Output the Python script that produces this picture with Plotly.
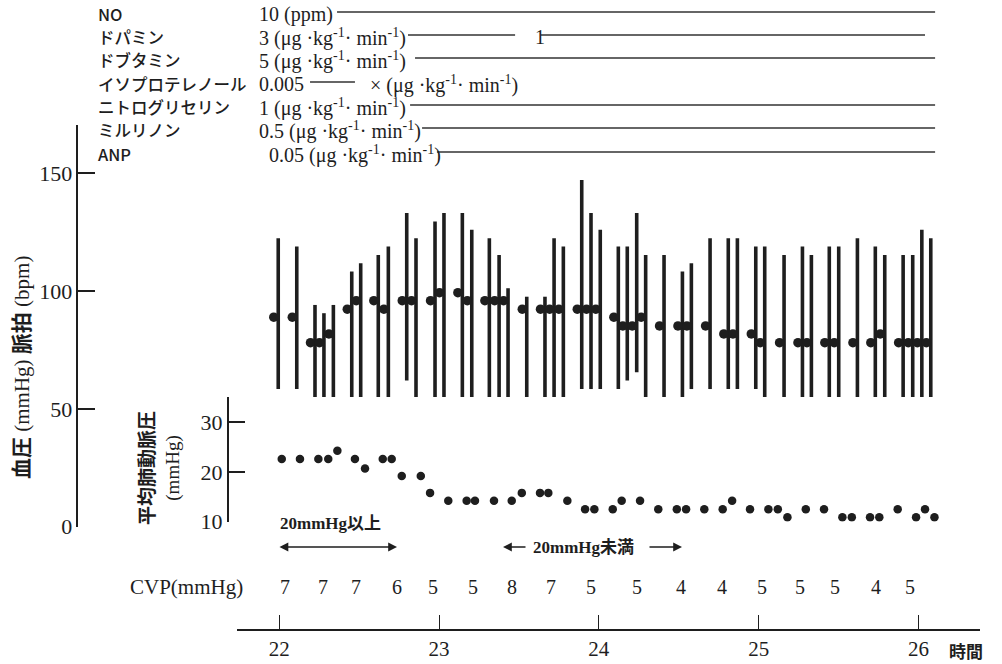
import plotly.graph_objects as go

# ---------------- data ----------------
# blood pressure bars (time in hours, systolic / diastolic) and pulse rate
bp_time = [21.994, 22.110, 22.224, 22.280, 22.339, 22.454, 22.510, 22.620, 22.683, 22.798,
           22.856, 22.975, 23.031, 23.146, 23.205, 23.315, 23.376, 23.432, 23.549, 23.663,
           23.720, 23.778, 23.893, 23.951, 24.009, 24.122, 24.178, 24.237, 24.293, 24.408,
           24.523, 24.579, 24.696, 24.810, 24.867, 24.982, 25.038, 25.159, 25.274, 25.330,
           25.442, 25.501, 25.618, 25.730, 25.789, 25.904, 25.964, 26.021, 26.077]
bp_high = [122.4, 118.9, 94.1, 90.6, 94.1, 108.3, 111.8, 115.3, 118.9, 133.1,
           122.4, 129.5, 133.1, 133.1, 126.0, 122.4, 115.3, 101.2, 97.6, 97.6,
           122.4, 118.9, 147.2, 133.1, 126.0, 118.9, 118.9, 133.1, 115.3, 115.3,
           108.3, 111.8, 122.4, 122.4, 122.4, 118.9, 118.9, 115.3, 118.9, 115.3,
           118.9, 118.9, 122.4, 118.9, 115.3, 115.3, 115.3, 126.0, 122.4]
bp_low = [58.4, 58.4, 47.8, 47.8, 47.8, 54.9, 54.9, 47.8, 51.3, 62.0,
          51.3, 54.9, 54.9, 54.9, 51.3, 51.3, 51.3, 51.3, 44.3, 44.3,
          51.3, 51.3, 58.4, 58.4, 58.4, 58.4, 62.0, 65.5, 51.3, 51.3,
          47.8, 58.4, 58.4, 58.4, 58.4, 58.4, 54.9, 54.9, 54.9, 51.3,
          51.3, 51.3, 47.8, 47.8, 40.7, 44.3, 40.7, 47.8, 47.8]
pulse = [88.9, 88.9, 78.1, 78.1, 81.8, 92.3, 95.9, 95.9, 92.3, 95.9,
         95.9, 95.9, 99.3, 99.3, 95.9, 95.9, 95.9, 95.9, 92.3, 92.3,
         92.3, 92.3, 92.3, 92.3, 92.3, 88.9, 85.2, 85.2, 88.9, 85.2,
         85.2, 85.2, 85.2, 81.8, 81.8, 81.8, 78.1, 78.1, 78.1, 78.1,
         78.1, 78.1, 78.1, 78.1, 81.8, 78.1, 78.1, 78.1, 78.1]

# mean pulmonary artery pressure
pap_time = [22.016, 22.130, 22.245, 22.307, 22.364, 22.474, 22.537, 22.648, 22.704, 22.767,
            22.886, 22.944, 23.058, 23.173, 23.225, 23.344, 23.455, 23.518, 23.632, 23.684,
            23.803, 23.914, 23.972, 24.087, 24.143, 24.258, 24.372, 24.488, 24.546, 24.660,
            24.775, 24.834, 24.946, 25.061, 25.120, 25.180, 25.295, 25.409, 25.524, 25.583,
            25.697, 25.755, 25.870, 25.985, 26.041, 26.100]
pap = [22.6, 22.6, 22.6, 22.6, 24.3, 22.6, 20.7, 22.6, 22.6, 19.2,
       19.2, 15.8, 14.2, 14.2, 14.2, 14.2, 14.2, 15.8, 15.8, 15.8,
       14.2, 12.5, 12.5, 12.5, 14.2, 14.2, 12.5, 12.5, 12.5, 12.5,
       12.5, 14.2, 12.5, 12.5, 12.5, 10.9, 12.5, 12.5, 10.9, 10.9,
       10.9, 10.9, 12.5, 10.9, 12.5, 10.9]

# CVP readings
cvp_time = [22.036, 22.274, 22.481, 22.737, 22.962, 23.213, 23.457, 23.701, 23.951,
            24.239, 24.514, 24.771, 25.021, 25.259, 25.478, 25.735, 25.947]
cvp = [7, 7, 7, 6, 5, 5, 8, 7, 5, 5, 4, 4, 5, 5, 5, 4, 5]

# drugs
UNIT = "(μg ·kg<sup>-1</sup>· min<sup>-1</sup>)"
drug_names = ["NO", "ドパミン", "ドブタミン", "イソプロテレノール", "ニトログリセリン", "ミルリノン", "ANP"]
drug_doses = ["10 (ppm)", "3 " + UNIT, "5 " + UNIT, "0.005", "1 " + UNIT, "0.5 " + UNIT, "0.05 " + UNIT]
drug_periods = [
    [(22.362, 26.104)],
    [(22.806, 23.476), (23.638, 26.041)],
    [(22.850, 26.104)],
    [(22.193, 22.474)],
    [(22.819, 26.104)],
    [(22.894, 26.104)],
    [(22.987, 26.104)],
]
drug_notes = [(1, 23.588, "1"), (3, 22.556, "× " + UNIT)]

x_ticks = [22, 23, 24, 25, 26]
bp_ticks = [0, 50, 100, 150]
pap_ticks = [10, 20, 30]

# ---------------- layout helpers ----------------
W, H = 1002, 664
INK = "#1e1e1e"
SERIF = "Liberation Serif, Noto Sans CJK JP"
GOTHIC = "Noto Sans CJK JP, Noto Sans"


def px(x):
    return x / W


def py(y):
    return (H - y) / H


fig = go.Figure()

# blood pressure bars
bx, by = [], []
for t, lo, hi in zip(bp_time, bp_low, bp_high):
    bx += [t, t, None]
    by += [lo, hi, None]
fig.add_trace(go.Scatter(x=bx, y=by, mode="lines", line=dict(color=INK, width=3.6),
                         xaxis="x", yaxis="y", hoverinfo="skip"))

# pulse dots (drawn just left of each bar)
PULSE_SHIFT = 0.028
fig.add_trace(go.Scatter(x=[t - PULSE_SHIFT for t in bp_time], y=pulse, mode="markers",
                         marker=dict(color=INK, size=9.5), xaxis="x", yaxis="y"))

# pulmonary artery pressure
fig.add_trace(go.Scatter(x=pap_time, y=pap, mode="markers",
                         marker=dict(color=INK, size=8.5), xaxis="x", yaxis="y2"))

row_y = [14, 37, 60, 84, 107, 130, 154]
shapes = []
annotations = []
for i, (name, dose, periods) in enumerate(zip(drug_names, drug_doses, drug_periods)):
    yy = row_y[i]
    annotations.append(dict(x=px(96), y=py(yy), xref="paper", yref="paper", text=name,
                            showarrow=False, xanchor="left", yanchor="middle",
                            font=dict(family=GOTHIC, size=16.5, color=INK, weight=500)))
    annotations.append(dict(x=px(267 if name == "ANP" else 257), y=py(yy), xref="paper", yref="paper",
                            text=dose, showarrow=False, xanchor="left", yanchor="middle",
                            font=dict(family=SERIF, size=20, color=INK)))
    for (s, e) in periods:
        shapes.append(dict(type="line", xref="x", yref="paper", x0=s, x1=e,
                           y0=py(yy - 2), y1=py(yy - 2), line=dict(color="#333", width=1.3)))
for (i, t, txt) in drug_notes:
    annotations.append(dict(x=t, y=py(row_y[i]), xref="x", yref="paper", text=txt,
                            showarrow=False, xanchor="left", yanchor="middle",
                            font=dict(family=SERIF, size=20, color=INK)))

# CVP row
annotations.append(dict(x=px(186), y=py(587), xref="paper", yref="paper", text="CVP(mmHg)",
                        showarrow=False, xanchor="center", yanchor="middle",
                        font=dict(family=SERIF, size=21, color=INK)))
for t, v in zip(cvp_time, cvp):
    annotations.append(dict(x=t, y=py(587), xref="x", yref="paper", text=str(v),
                            showarrow=False, xanchor="center", yanchor="middle",
                            font=dict(family=SERIF, size=20, color=INK)))

# axis titles
annotations.append(dict(x=px(22), y=py(368), xref="paper", yref="paper",
                        text="<b>血圧</b> (mmHg) <b>脈拍</b> (bpm)", textangle=-90,
                        showarrow=False, xanchor="center", yanchor="middle",
                        font=dict(family=SERIF, size=21, color=INK)))
annotations.append(dict(x=px(160), y=py(468), xref="paper", yref="paper",
                        text="<b>平均肺動脈圧</b><br>(mmHg)", textangle=-90,
                        showarrow=False, xanchor="center", yanchor="middle",
                        font=dict(family=SERIF, size=19, color=INK)))
annotations.append(dict(x=px(966), y=py(650), xref="paper", yref="paper", text="<b>時間</b>",
                        showarrow=False, xanchor="center", yanchor="middle",
                        font=dict(family=GOTHIC, size=17, color=INK)))

# range markers
annotations.append(dict(x=px(278), y=py(523), xref="paper", yref="paper", text="<b>20mmHg以上</b>",
                        showarrow=False, xanchor="left", yanchor="middle",
                        font=dict(family=SERIF, size=17, color=INK)))
annotations.append(dict(x=px(397), y=py(547), xref="paper", yref="paper", text="",
                        showarrow=True, axref="pixel", ayref="pixel", ax=-119, ay=0,
                        arrowside="end+start", arrowhead=2, arrowsize=1.1, arrowwidth=1.6,
                        arrowcolor=INK))
annotations.append(dict(x=px(503), y=py(547), xref="paper", yref="paper", text="",
                        showarrow=True, ax=24, ay=0, arrowhead=2, arrowsize=1.1,
                        arrowwidth=1.6, arrowcolor=INK))
annotations.append(dict(x=px(682), y=py(547), xref="paper", yref="paper", text="",
                        showarrow=True, ax=-34, ay=0, arrowhead=2, arrowsize=1.1,
                        arrowwidth=1.6, arrowcolor=INK))
annotations.append(dict(x=px(531), y=py(547), xref="paper", yref="paper", text="<b>20mmHg未満</b>",
                        showarrow=False, xanchor="left", yanchor="middle",
                        font=dict(family=SERIF, size=17, color=INK)))

fig.update_layout(
    width=W, height=H,
    margin=dict(l=0, r=0, t=0, b=0, autoexpand=False),
    paper_bgcolor="white", plot_bgcolor="white",
    showlegend=False,
    xaxis=dict(domain=[px(237), px(980)], range=[21.736, 26.385], anchor="free", position=py(630),
               showline=True, linecolor=INK, linewidth=2, ticks="inside", ticklen=14,
               tickwidth=1.3, tickcolor=INK, tickvals=x_ticks, showgrid=False, zeroline=False,
               tickfont=dict(family=SERIF, size=21, color=INK)),
    yaxis=dict(domain=[py(526.6), py(125)], range=[0, 170.5], anchor="free", position=px(77.3),
               showline=True, linecolor=INK, linewidth=1.5, ticks="inside", ticklen=17,
               tickwidth=1.5, tickcolor=INK, tickvals=bp_ticks, showgrid=False, zeroline=False,
               tickfont=dict(family=SERIF, size=22, color=INK)),
    yaxis2=dict(domain=[py(521.7), py(397)], range=[10, 35.1], anchor="free", position=px(227.7),
                showline=True, linecolor=INK, linewidth=1.5, ticks="inside", ticklen=17,
                tickwidth=1.5, tickcolor=INK, tickvals=pap_ticks, showgrid=False, zeroline=False,
                tickfont=dict(family=SERIF, size=22, color=INK)),
    shapes=shapes,
    annotations=annotations,
)

# make the 1002x664 figure fill the page exactly (no body margin, no line-box gap, no scrollbars)
PAGE_FIX = (
    "document.documentElement.style.margin='0';"
    "document.documentElement.style.overflow='hidden';"
    "document.body.style.margin='0';"
    "document.body.style.overflow='hidden';"
    "document.body.style.lineHeight='0';"
    "document.querySelectorAll('.plotly-graph-div, .svg-container').forEach(function(e){"
    "e.style.display='block';e.style.overflow='hidden';});"
)
fig.write_html("out.html", config={"displayModeBar": False}, post_script=PAGE_FIX)
